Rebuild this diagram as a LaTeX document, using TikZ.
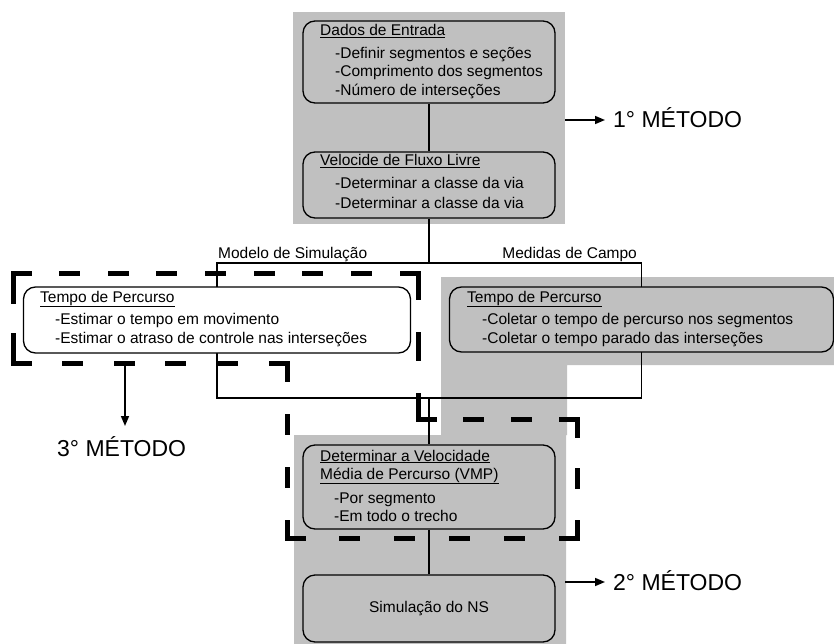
\documentclass[tikz,border=0pt]{standalone}
\usepackage{fontspec}
\setmainfont{Liberation Sans}
\usetikzlibrary{arrows.meta}
\definecolor{bggray}{RGB}{192,192,192}
\tikzset{
  box/.style={draw, line width=1.3pt, rounded corners=12pt, inner sep=0pt, fill=bggray},
  wbox/.style={box, fill=white},
  txt/.style={inner sep=0pt, anchor=base west, font=\fontsize{15.5}{18}\selectfont},
  ctxt/.style={inner sep=0pt, anchor=center, font=\fontsize{15.5}{18}\selectfont},
  big/.style={inner sep=0pt, anchor=base west, font=\fontsize{23}{26}\selectfont},
  trunk/.style={line width=2pt},
  branch/.style={line width=1.2pt},
  marker/.style={line width=1.5pt, -{Triangle[length=10pt,width=8pt]}},
  frame/.style={line width=5pt, line cap=rect},
}
\begin{document}
\begin{tikzpicture}[x=1pt,y=-1pt]
\useasboundingbox (0,0) rectangle (834,644);
% gray backgrounds
\fill[bggray] (293,12) rectangle (565,224);
\fill[bggray] (441,277) -- (834,277) -- (834,365) -- (567,365) -- (567,435)
  -- (566,435) -- (566,644) -- (294,644) -- (294,435) -- (441,435) -- cycle;
% boxes
\node[box, minimum width=252pt, minimum height=82pt] (b1) at (429,62) {};
\node[box, minimum width=252pt, minimum height=66pt] (b2) at (429,185) {};
\node[box, minimum width=252pt, minimum height=84pt] (vmp) at (429,487) {};
\node[box, minimum width=252pt, minimum height=67pt] (ns) at (429,608.5) {};
% connectors
\coordinate (split) at (429,263);
\coordinate (join) at (429,398);
\coordinate (lbn) at (217,287);
\coordinate (lbs) at (217,353);
\coordinate (rbn) at (641.5,287);
\coordinate (rbs) at (641.5,352);
\draw[trunk] (b1.south) -- (b2.north);
\draw[trunk] (b2.south) -- (split);
\draw[trunk] (join) -- (vmp.north);
\draw[trunk] (vmp.south) -- (ns.north);
\draw[branch] (split) -| (lbn);
\draw[branch] (split) -| (rbn);
\draw[branch] (lbs) |- (join);
\draw[branch] (rbs) |- (join);
\node[wbox, minimum width=387pt, minimum height=66pt] (lb) at (217,320) {};
\node[box, minimum width=384pt, minimum height=65pt] (rb) at (641.5,319.5) {};
% texts
\node[txt] (t1) at (320,36) {\underline{Dados de Entrada}};
\node[txt] (t1a) at (335,59) {-Definir segmentos e seções};
\node[txt] (t1b) at (335,77) {-Comprimento dos segmentos};
\node[txt] (t1c) at (335,96) {-Número de interseções};
\node[txt] (t2) at (320,166) {\underline{Velocide de Fluxo Livre}};
\node[txt] (t2a) at (335,189) {-Determinar a classe da via};
\node[txt] (t2b) at (335,208) {-Determinar a classe da via};
\node[txt] (ml) at (218,258) {Modelo de Simulação};
\node[txt, anchor=base east] (mc) at (637,258) {Medidas de Campo};
\node[txt] (t3) at (40,302) {\underline{Tempo de Percurso}};
\node[txt] (t3a) at (55,324) {-Estimar o tempo em movimento};
\node[txt] (t3b) at (55,343) {-Estimar o atraso de controle nas interseções};
\node[txt] (t4) at (467,302) {\underline{Tempo de Percurso}};
\node[txt] (t4a) at (482,324) {-Coletar o tempo de percurso nos segmentos};
\node[txt] (t4b) at (482,343) {-Coletar o tempo parado das interseções};
\node[txt] (t5) at (320,461) {\underline{Determinar a Velocidade}};
\node[txt] (t5b) at (320,479) {\underline{Média de Percurso (VMP)}};
\node[txt] (t5c) at (334,503) {-Por segmento};
\node[txt] (t5d) at (334,521) {-Em todo o trecho};
\node[ctxt] (t6) at (ns.center) {Simulação do NS};
% dashed frame, side by side so that every corner carries a dash
\coordinate (f1) at (13,273);
\coordinate (f2) at (418,273);
\coordinate (f3) at (418,419);
\coordinate (f4) at (577,419);
\coordinate (f5) at (577,538);
\coordinate (f6) at (287,538);
\coordinate (f7) at (287,363);
\coordinate (f8) at (13,363);
\draw[frame, dash pattern=on 16pt off 32.625pt] (f1) -- (f2);
\draw[frame, dash pattern=on 24pt off 37pt] (f2) -- (f3);
\draw[frame, dash pattern=on 16pt off 31.667pt] (f3) -- (f4);
\draw[frame, dash pattern=on 16pt off 35.5pt] (f4) -- (f5);
\draw[frame, dash pattern=on 16pt off 38.8pt] (f5) -- (f6);
\draw[frame, dash pattern=on 16pt off 37pt] (f6) -- (f7);
\draw[frame, dash pattern=on 16pt off 35.6pt] (f7) -- (f8);
\draw[frame, dash pattern=on 28pt off 34pt] (f8) -- (f1);
% method labels
\node[big] (m1) at (613,128) {1° MÉTODO};
\node[big] (m2) at (613,590) {2° MÉTODO};
\node[big] (m3) at (57,456) {3° MÉTODO};
\coordinate (m1s) at (565,120);
\coordinate (m2s) at (565,582);
\coordinate (m3s) at (125,363);
\coordinate (m3e) at (125,426);
\draw[marker, shorten >=8pt] (m1s) -- (m1s -| m1.west);
\draw[marker, shorten >=8pt] (m2s) -- (m2s -| m2.west);
\draw[marker] (m3s) -- (m3e);
\end{tikzpicture}
\end{document}
